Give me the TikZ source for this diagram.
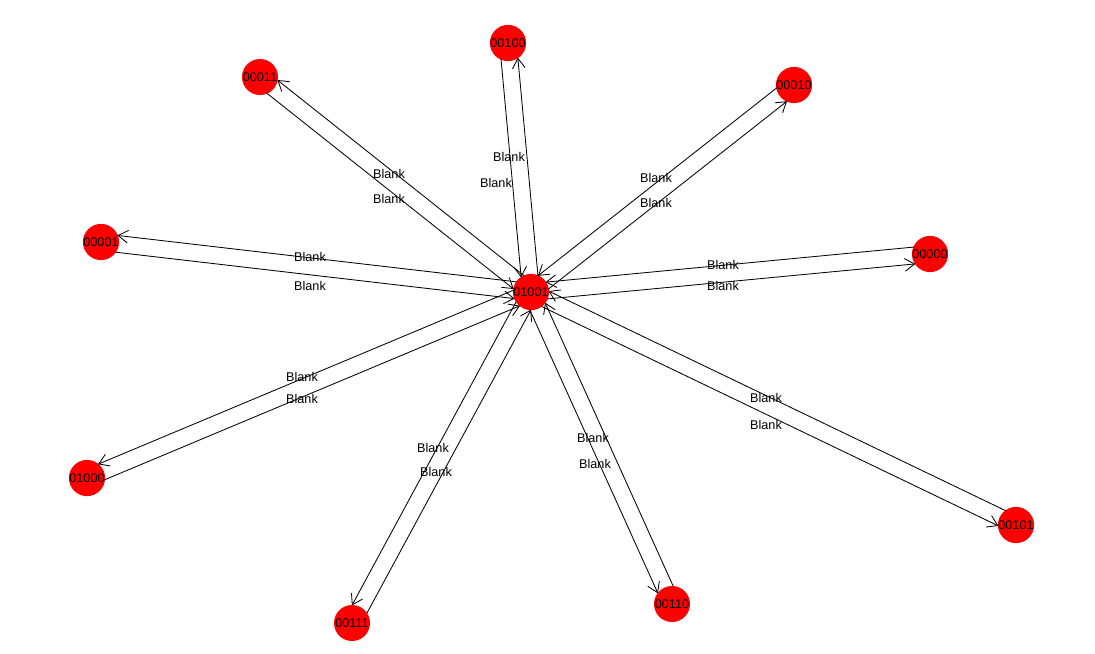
\documentclass[tikz,border=0pt]{standalone}
\usepackage{fontspec}
\setmainfont{Liberation Sans}
\usetikzlibrary{arrows.meta,calc}
\begin{document}
\begin{tikzpicture}[x=0.025cm, y=-0.025cm,
  >={Straight Barb[length=7pt,width=9pt]},
  vtx/.style={circle,fill=red,inner sep=0pt,minimum size=0.9cm,font=\fontsize{9}{10}\selectfont},
  lab/.style={inner sep=0pt,font=\fontsize{9}{10}\selectfont},
  edge/.style={->,line width=0.6pt,shorten <=11pt,shorten >=11pt}]
  \useasboundingbox (0,0) rectangle (1095,653);
  % states
  \node[vtx] (c) at (531,292) {01001};
  \node[vtx] (s4) at (508,43) {00100};
  \node[vtx] (s3) at (260,77) {00011};
  \node[vtx] (s2) at (794,85) {00010};
  \node[vtx] (s1) at (101,242) {00001};
  \node[vtx] (s0) at (930,254) {00000};
  \node[vtx] (s8) at (87,478) {01000};
  \node[vtx] (s5) at (1016,525) {00101};
  \node[vtx] (s7) at (352,623) {00111};
  \node[vtx] (s6) at (672,604) {00110};
  % edges, one each way
  \draw[edge] ($(c)!6pt!-90:(s4)$) -- ($(s4)!6pt!90:(c)$);
  \draw[edge] ($(s4)!6pt!-90:(c)$) -- ($(c)!6pt!90:(s4)$);
  \draw[edge] ($(c)!6pt!-90:(s3)$) -- ($(s3)!6pt!90:(c)$);
  \draw[edge] ($(s3)!6pt!-90:(c)$) -- ($(c)!6pt!90:(s3)$);
  \draw[edge] ($(c)!6pt!-90:(s2)$) -- ($(s2)!6pt!90:(c)$);
  \draw[edge] ($(s2)!6pt!-90:(c)$) -- ($(c)!6pt!90:(s2)$);
  \draw[edge] ($(c)!6pt!-90:(s1)$) -- ($(s1)!6pt!90:(c)$);
  \draw[edge] ($(s1)!6pt!-90:(c)$) -- ($(c)!6pt!90:(s1)$);
  \draw[edge] ($(c)!6pt!-90:(s0)$) -- ($(s0)!6pt!90:(c)$);
  \draw[edge] ($(s0)!6pt!-90:(c)$) -- ($(c)!6pt!90:(s0)$);
  \draw[edge] ($(c)!6pt!-90:(s8)$) -- ($(s8)!6pt!90:(c)$);
  \draw[edge] ($(s8)!6pt!-90:(c)$) -- ($(c)!6pt!90:(s8)$);
  \draw[edge] ($(c)!6pt!-90:(s5)$) -- ($(s5)!6pt!90:(c)$);
  \draw[edge] ($(s5)!6pt!-90:(c)$) -- ($(c)!6pt!90:(s5)$);
  \draw[edge] ($(c)!6pt!-90:(s7)$) -- ($(s7)!6pt!90:(c)$);
  \draw[edge] ($(s7)!6pt!-90:(c)$) -- ($(c)!6pt!90:(s7)$);
  \draw[edge] ($(c)!6pt!-90:(s6)$) -- ($(s6)!6pt!90:(c)$);
  \draw[edge] ($(s6)!6pt!-90:(c)$) -- ($(c)!6pt!90:(s6)$);
  % labels
  \node[lab] (l4a) at (509,157) {Blank};
  \node[lab] (l4b) at (496,183) {Blank};
  \node[lab] (l3a) at (389,174) {Blank};
  \node[lab] (l3b) at (389,199) {Blank};
  \node[lab] (l2a) at (656,178) {Blank};
  \node[lab] (l2b) at (656,203) {Blank};
  \node[lab] (l1a) at (310,257) {Blank};
  \node[lab] (l1b) at (310,286) {Blank};
  \node[lab] (l0a) at (723,265) {Blank};
  \node[lab] (l0b) at (723,286) {Blank};
  \node[lab] (l8a) at (302,377) {Blank};
  \node[lab] (l8b) at (302,399) {Blank};
  \node[lab] (l5a) at (766,398) {Blank};
  \node[lab] (l5b) at (766,425) {Blank};
  \node[lab] (l7a) at (433,448) {Blank};
  \node[lab] (l7b) at (436,472) {Blank};
  \node[lab] (l6a) at (593,438) {Blank};
  \node[lab] (l6b) at (595,464) {Blank};
\end{tikzpicture}
\end{document}
